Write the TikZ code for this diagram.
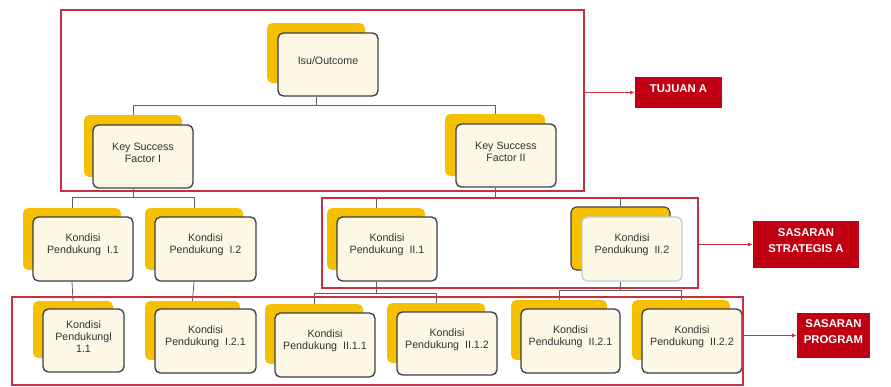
\documentclass[tikz,border=0pt]{standalone}
\usepackage{fontspec}
\setmainfont{Liberation Sans}
\usetikzlibrary{fit,backgrounds,arrows.meta}
\definecolor{gold}{HTML}{F4C000}
\definecolor{cream}{HTML}{FDF7E6}
\definecolor{edge}{HTML}{3E3E4C}
\definecolor{frame}{HTML}{C8303E}
\definecolor{lblred}{HTML}{C00012}
\definecolor{wire}{HTML}{5E6070}
\definecolor{paleblue}{HTML}{B8CCE4}
\tikzset{
  goldbox/.style={fill=gold, rounded corners=4pt, inner sep=0pt},
  frontbox/.style={fill=cream, draw=edge, line width=1pt, rounded corners=4pt,
    inner sep=0pt, align=center, font=\fontsize{8}{9}\selectfont, text=black!80},
  redframe/.style={draw=frame, line width=1.4pt, inner sep=0pt},
  tag/.style={fill=lblred, inner sep=0pt, align=center, text=white,
    font=\fontsize{8.5}{12}\selectfont\bfseries},
  wire/.style={draw=wire, line width=0.6pt},
  pointer/.style={draw=frame, line width=0.7pt, -{Latex[length=3.5pt,width=3pt]}}
}
\begin{document}
\begin{tikzpicture}[x=0.75pt,y=-0.75pt]
\useasboundingbox (0,0) rectangle (891,386);

% level 1
\node[goldbox, fit={(267,23)(365,83)}] (isuY) {};
\node[frontbox, fit={(278,33)(378,96)}] (isu) {Isu/Outcome};

% level 2
\node[goldbox, fit={(84,115)(182,177)}] (ksf1Y) {};
\node[frontbox, fit={(93,125)(193,188)}] (ksf1) {Key Success\\Factor I};
\node[goldbox, fit={(445,114)(545,176)}] (ksf2Y) {};
\node[frontbox, fit={(456,124)(556,187)}] (ksf2) {Key Success\\Factor II};

% level 3
\node[goldbox, fit={(23,208)(121,270)}] (k1Y) {};
\node[frontbox, fit={(33,217)(133,281)}] (k1) {Kondisi\\Pendukung\ \ I.1};
\node[goldbox, fit={(145,208)(243,270)}] (k2Y) {};
\node[frontbox, fit={(155,217)(256,281)}] (k2) {Kondisi\\Pendukung\ \ I.2};
\node[goldbox, fit={(327,208)(425,270)}] (k3Y) {};
\node[frontbox, fit={(337,217)(437,281)}] (k3) {Kondisi\\Pendukung\ \ II.1};
\node[goldbox, draw=edge, line width=0.8pt, fit={(571,207)(670,270)}] (k4Y) {};
\node[frontbox, draw=paleblue, fit={(582,217)(682,281)}] (k4) {Kondisi\\Pendukung\ \ II.2};

% level 4
\node[goldbox, fit={(33,301)(113,358)}] (m1Y) {};
\node[frontbox, fit={(43,309)(124,372)}] (m1) {Kondisi\\Pendukungl\\1.1};
\node[goldbox, fit={(145,301)(240,360)}] (m2Y) {};
\node[frontbox, fit={(155,309)(256,373)}] (m2) {Kondisi\\Pendukung\ \ I.2.1};
\node[goldbox, fit={(265,304)(363,364)}] (m3Y) {};
\node[frontbox, fit={(275,313)(375,377)}] (m3) {Kondisi\\Pendukung\ \ II.1.1};
\node[goldbox, fit={(387,303)(485,363)}] (m4Y) {};
\node[frontbox, fit={(397,312)(497,375)}] (m4) {Kondisi\\Pendukung\ \ II.1.2};
\node[goldbox, fit={(511,300)(607,360)}] (m5Y) {};
\node[frontbox, fit={(521,309)(620,373)}] (m5) {Kondisi\\Pendukung\ \ II.2.1};
\node[goldbox, fit={(632,300)(730,360)}] (m6Y) {};
\node[frontbox, fit={(642,309)(742,373)}] (m6) {Kondisi\\Pendukung\ \ II.2.2};

% tree connectors, kept behind the boxes
\begin{pgfonlayer}{background}
  \draw[wire] (isuY.center |- isu.south) -- ++(0,9) -| (ksf1Y.north);
  \draw[wire] (isuY.center |- isu.south) -- ++(0,9) -| (ksf2Y.north);
  \draw[wire] (ksf1Y.center |- ksf1.south) -- ++(0,9) -| (k1Y.north);
  \draw[wire] (ksf1Y.center |- ksf1.south) -- ++(0,9) -| (k2Y.north);
  \draw[wire] (ksf2Y.center |- ksf2.south) -- ++(0,10) -| (k3Y.north);
  \draw[wire] (ksf2Y.center |- ksf2.south) -- ++(0,10) -| (k4Y.north);
  \draw[wire] (k1Y.center |- k1.south) -- (m1Y.north);
  \draw[wire] (k2Y.center |- k2.south) -- (m2Y.north);
  \draw[wire] (k3Y.center |- k3.south) -- ++(0,12) -| (m3Y.north);
  \draw[wire] (k3Y.center |- k3.south) -- ++(0,12) -| (m4Y.north);
  \draw[wire] (k4Y.center |- k4.south) -- ++(0,9) -| (m5Y.north);
  \draw[wire] (k4Y.center |- k4.south) -- ++(0,9) -| (m6Y.north);
\end{pgfonlayer}

% grouping frames
\node[redframe, fit={(61,10)(584,191)}] (tujuanFrame) {};
\node[redframe, fit={(322,198)(698,288)}] (strategisFrame) {};
\node[redframe, fit={(12,297)(743,385)}] (programFrame) {};

% labels
\node[tag, fit={(635,77)(722,108)}] (tujuanTag) {TUJUAN A};
\node[tag, fit={(753,221)(859,268)}] (strategisTag) {SASARAN\\STRATEGIS A};
\node[tag, fit={(797,313)(870,358)}] (programTag) {SASARAN\\PROGRAM};

\draw[pointer] (tujuanFrame.east |- tujuanTag) -- (tujuanTag.west);
\draw[pointer] (strategisFrame.east |- strategisTag) -- (strategisTag.west);
\draw[pointer] (programFrame.east |- programTag) -- (programTag.west);
\end{tikzpicture}
\end{document}
